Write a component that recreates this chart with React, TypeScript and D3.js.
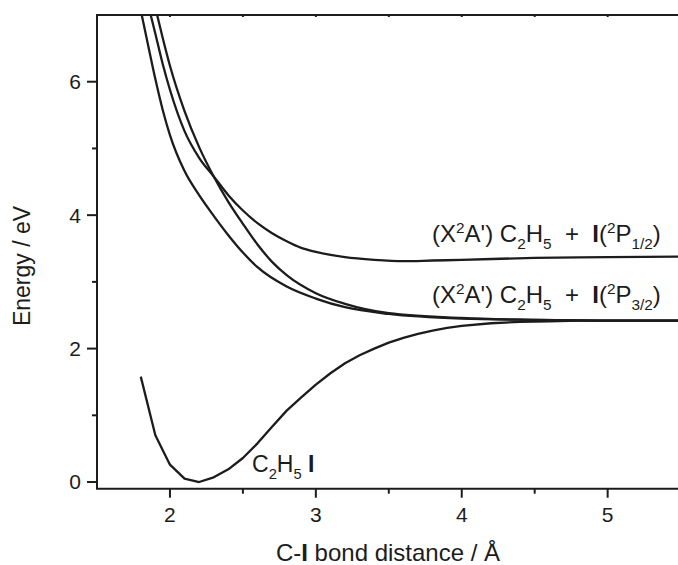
import React from "react";
import * as d3 from "d3";

// Ground state C2H5I potential (Å, eV)
const rGround = [1.8, 1.9, 2.0, 2.1, 2.2, 2.3, 2.4, 2.5, 2.6, 2.7, 2.8, 2.9, 3.0, 3.1, 3.2, 3.3, 3.4, 3.5, 3.6, 3.7, 3.8, 3.9, 4.0, 4.2, 4.4, 4.6, 4.8, 5.0, 5.5];
const eGround = [1.58, 0.70, 0.26, 0.05, 0.0, 0.07, 0.19, 0.36, 0.58, 0.83, 1.07, 1.27, 1.46, 1.63, 1.78, 1.90, 2.00, 2.09, 2.16, 2.22, 2.27, 2.31, 2.34, 2.38, 2.40, 2.41, 2.42, 2.42, 2.42];

// Lowest repulsive state -> C2H5 + I(2P3/2)
const rLow1 = [1.8, 1.85, 1.9, 1.95, 2.0, 2.1, 2.2, 2.3, 2.4, 2.5, 2.6, 2.8, 3.0, 3.2, 3.5, 4.0, 4.5, 5.0, 5.5];
const eLow1 = [7.07, 6.55, 6.04, 5.58, 5.20, 4.66, 4.30, 3.99, 3.70, 3.44, 3.22, 2.93, 2.75, 2.62, 2.52, 2.45, 2.43, 2.42, 2.42];

// Second repulsive state -> C2H5 + I(2P3/2)
const rLow2 = [1.9, 1.95, 2.0, 2.1, 2.2, 2.3, 2.4, 2.5, 2.6, 2.7, 2.8, 3.0, 3.2, 3.5, 4.0, 4.5, 5.0, 5.5];
const eLow2 = [7.11, 6.66, 6.24, 5.56, 5.02, 4.58, 4.20, 3.87, 3.56, 3.30, 3.10, 2.83, 2.67, 2.53, 2.46, 2.43, 2.42, 2.42];

// Upper state -> C2H5 + I(2P1/2)
const rUpper = [1.85, 1.9, 1.95, 2.0, 2.1, 2.2, 2.3, 2.4, 2.5, 2.6, 2.7, 2.8, 2.9, 3.0, 3.2, 3.4, 3.6, 3.8, 4.0, 4.5, 5.0, 5.5];
const eUpper = [7.16, 6.72, 6.27, 5.88, 5.26, 4.86, 4.58, 4.30, 4.07, 3.88, 3.73, 3.61, 3.51, 3.45, 3.37, 3.33, 3.31, 3.32, 3.33, 3.36, 3.37, 3.38];

const xMajor = [2, 3, 4, 5];
const xMinor = [2.5, 3.5, 4.5];
const yMajor = [0, 2, 4, 6];
const yMinor = [1, 3, 5];

const W = 678;
const H = 565;
const left = 97;
const top = 15;
const bottom = 488.7;

const x = d3.scaleLinear().domain([1.5, 5.5]).range([left, left + 4 * 145.9]);
const y = d3.scaleLinear().domain([-0.1, 7]).range([bottom, top]);

const INK = "#1c1c1c";
const FONT = "'Liberation Sans', Arial, Helvetica, sans-serif";

type Seg = { t: string; k?: "sub" | "sup" | "b" };

function RichText({ segs, x0, y0, size }: { segs: Seg[]; x0: number; y0: number; size: number }) {
  const small = size * 0.64;
  let cur = 0; // current vertical offset
  const spans = segs.map((s, i) => {
    const target = s.k === "sub" ? size * 0.3 : s.k === "sup" ? -size * 0.38 : 0;
    const dy = target - cur;
    cur = target;
    return (
      <tspan
        key={i}
        dy={dy}
        fontSize={s.k === "sub" || s.k === "sup" ? small : size}
        fontWeight={s.k === "b" ? "bold" : "normal"}
      >
        {s.t}
      </tspan>
    );
  });
  return (
    <text x={x0} y={y0} fontFamily={FONT} fill={INK} style={{ whiteSpace: "pre" }}>
      {spans}
    </text>
  );
}

export default function App() {
  const lineLin = d3
    .line<[number, number]>()
    .x((d) => x(d[0]))
    .y((d) => y(d[1]))
    .curve(d3.curveLinear);
  const lineSmooth = d3
    .line<[number, number]>()
    .x((d) => x(d[0]))
    .y((d) => y(d[1]))
    .curve(d3.curveMonotoneX);

  const zip = (a: number[], b: number[]) => a.map((v, i) => [v, b[i]] as [number, number]);

  const label1: Seg[] = [
    { t: "(X" }, { t: "2", k: "sup" }, { t: "A') C" }, { t: "2", k: "sub" }, { t: "H" }, { t: "5", k: "sub" },
    { t: "  +  " }, { t: "I", k: "b" }, { t: "(" }, { t: "2", k: "sup" }, { t: "P" }, { t: "1/2", k: "sub" }, { t: ")" },
  ];
  const label2: Seg[] = [
    { t: "(X" }, { t: "2", k: "sup" }, { t: "A') C" }, { t: "2", k: "sub" }, { t: "H" }, { t: "5", k: "sub" },
    { t: "  +  " }, { t: "I", k: "b" }, { t: "(" }, { t: "2", k: "sup" }, { t: "P" }, { t: "3/2", k: "sub" }, { t: ")" },
  ];
  const label3: Seg[] = [{ t: "C" }, { t: "2", k: "sub" }, { t: "H" }, { t: "5", k: "sub" }, { t: " " }, { t: "I", k: "b" }];

  return (
    <svg
      width={W}
      height={H}
      viewBox={`0 0 ${W} ${H}`}
      style={{ position: "absolute", left: 0, top: 0, display: "block", background: "#fff" }}
    >
      <defs>
        <clipPath id="plot">
          <rect x={left} y={top} width={W - left} height={bottom - top} />
        </clipPath>
      </defs>

      {/* curves */}
      <g clipPath="url(#plot)" fill="none" stroke={INK} strokeWidth={2.3} strokeLinejoin="round">
        <path d={lineLin(zip(rGround, eGround)) || ""} />
        <path d={lineSmooth(zip(rLow1, eLow1)) || ""} />
        <path d={lineSmooth(zip(rLow2, eLow2)) || ""} />
        <path d={lineSmooth(zip(rUpper, eUpper)) || ""} />
      </g>

      {/* axes */}
      <g stroke={INK} strokeWidth={2} fill="none">
        <line x1={left} y1={top} x2={left} y2={bottom} />
        <line x1={left - 1} y1={bottom} x2={W} y2={bottom} />
        <line x1={left - 1} y1={top} x2={W} y2={top} />
        {yMajor.map((v) => (
          <line key={"ym" + v} x1={left - 10} x2={left} y1={y(v)} y2={y(v)} />
        ))}
        {yMinor.map((v) => (
          <line key={"yn" + v} x1={left - 5} x2={left} y1={y(v)} y2={y(v)} />
        ))}
        {xMajor.map((v) => (
          <line key={"xm" + v} x1={x(v)} x2={x(v)} y1={bottom} y2={bottom + 9} />
        ))}
        {xMinor.map((v) => (
          <line key={"xn" + v} x1={x(v)} x2={x(v)} y1={bottom} y2={bottom + 5} />
        ))}
        {[...xMajor, ...xMinor].map((v) => (
          <line key={"xt" + v} x1={x(v)} x2={x(v)} y1={top} y2={top + 2} />
        ))}
      </g>

      {/* tick labels */}
      <g fontFamily={FONT} fontSize={21} fill={INK}>
        {yMajor.map((v) => (
          <text key={"yl" + v} x={left - 16} y={y(v)} dy="0.35em" textAnchor="end">
            {v}
          </text>
        ))}
        {xMajor.map((v) => (
          <text key={"xl" + v} x={x(v)} y={bottom + 33} textAnchor="middle">
            {v}
          </text>
        ))}
      </g>

      {/* axis titles */}
      <text x={388} y={561} textAnchor="middle" fontFamily={FONT} fontSize={24} fill={INK} style={{ whiteSpace: "pre" }}>
        <tspan>C-</tspan>
        <tspan fontWeight="bold">I</tspan>
        <tspan> bond distance / Å</tspan>
      </text>
      <text
        transform={`translate(30, 266) rotate(-90)`}
        textAnchor="middle"
        fontFamily={FONT}
        fontSize={23}
        fill={INK}
      >
        Energy / eV
      </text>

      {/* state labels */}
      <RichText segs={label1} x0={432} y0={242} size={24} />
      <RichText segs={label2} x0={432} y0={303} size={24} />
      <RichText segs={label3} x0={252} y0={472} size={23} />
    </svg>
  );
}
